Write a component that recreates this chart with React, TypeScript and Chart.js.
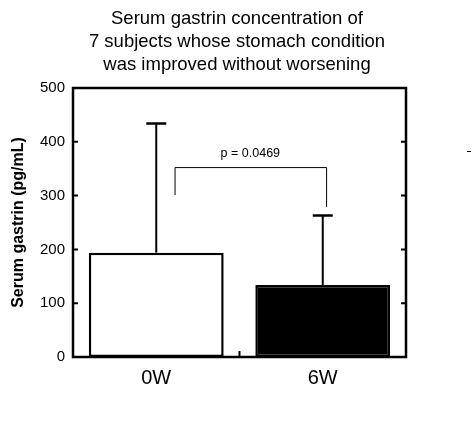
import React, { useEffect, useRef } from 'react';
import { Chart, registerables } from 'chart.js';

Chart.register(...registerables);

const titleLines = [
  'Serum gastrin concentration of',
  '7 subjects whose stomach condition',
  'was improved without worsening',
];
const categories = ['0W', '6W'];
const meanValues = [194, 134];
const upperErrors = [434, 263];
const barColors = ['#ffffff', '#000000'];
const yTickValues = [0, 100, 200, 300, 400, 500];
const yAxisTitle = 'Serum gastrin (pg/mL)';
const pValueLabel = 'p = 0.0469';
// significance bracket, in data units (category index / value)
const bracketFrom = 0.11;
const bracketTo = 1.02;
const bracketTop = 353;
const bracketLeftEnd = 301;
const bracketRightEnd = 279;

const FONT = '"Liberation Sans", Arial, sans-serif';

const titlePlugin = {
  id: 'manualTitle',
  afterDraw(chart: any) {
    const { ctx } = chart;
    ctx.save();
    ctx.fillStyle = '#000';
    ctx.font = `18.5px ${FONT}`;
    ctx.textAlign = 'center';
    ctx.textBaseline = 'middle';
    titleLines.forEach((line, i) => {
      ctx.fillText(line, 237, 18.5 + i * 23);
    });
    ctx.restore();
  },
};

const overlayPlugin = {
  id: 'overlay',
  afterDatasetsDraw(chart: any) {
    const { ctx, chartArea: a, scales } = chart;
    const x = scales.x;
    const y = scales.y;
    ctx.save();
    ctx.strokeStyle = '#000';
    ctx.lineCap = 'butt';

    // error bars (upper only)
    meanValues.forEach((v, i) => {
      const px = x.getPixelForValue(i);
      const y0 = y.getPixelForValue(v);
      const y1 = y.getPixelForValue(upperErrors[i]);
      ctx.lineWidth = 2;
      ctx.beginPath();
      ctx.moveTo(px, y0);
      ctx.lineTo(px, y1);
      ctx.stroke();
      ctx.lineWidth = 2.5;
      ctx.beginPath();
      ctx.moveTo(px - 10, y1);
      ctx.lineTo(px + 10, y1);
      ctx.stroke();
    });

    // frame
    ctx.lineWidth = 2.5;
    ctx.strokeRect(a.left, a.top, a.right - a.left, a.bottom - a.top);

    // inward ticks on left and right
    ctx.lineWidth = 2;
    yTickValues.forEach((t) => {
      const py = y.getPixelForValue(t);
      ctx.beginPath();
      ctx.moveTo(a.left, py);
      ctx.lineTo(a.left + 5, py);
      ctx.moveTo(a.right, py);
      ctx.lineTo(a.right - 5, py);
      ctx.stroke();
    });
    // category boundary tick on bottom
    const mid = x.getPixelForValue(0.5);
    ctx.beginPath();
    ctx.moveTo(mid, a.bottom);
    ctx.lineTo(mid, a.bottom - 6);
    ctx.stroke();

    // significance bracket
    const bx1 = x.getPixelForValue(bracketFrom);
    const bx2 = x.getPixelForValue(bracketTo);
    const by = y.getPixelForValue(bracketTop);
    ctx.lineWidth = 1;
    ctx.beginPath();
    ctx.moveTo(bx1 + 0.5, y.getPixelForValue(bracketLeftEnd));
    ctx.lineTo(bx1 + 0.5, by + 0.5);
    ctx.lineTo(bx2 + 0.5, by + 0.5);
    ctx.lineTo(bx2 + 0.5, y.getPixelForValue(bracketRightEnd));
    ctx.stroke();

    ctx.fillStyle = '#000';
    ctx.font = `12.5px ${FONT}`;
    ctx.textAlign = 'center';
    ctx.textBaseline = 'middle';
    ctx.fillText(pValueLabel, (bx1 + bx2) / 2, by - 14);

    // small stray dash at right edge
    ctx.beginPath();
    ctx.moveTo(467, 151.5);
    ctx.lineTo(471, 151.5);
    ctx.stroke();

    ctx.restore();
  },
};

export default function App() {
  const canvasRef = useRef<HTMLCanvasElement | null>(null);

  useEffect(() => {
    document.body.style.margin = '0';
    const canvas = canvasRef.current;
    if (!canvas) return;
    Chart.defaults.font.family = FONT;
    Chart.defaults.color = '#000';
    const chart = new Chart(canvas, {
      type: 'bar',
      data: {
        labels: categories,
        datasets: [
          {
            data: meanValues,
            backgroundColor: barColors,
            borderColor: '#000',
            borderWidth: 2.5,
            borderSkipped: false,
            barPercentage: 0.81,
            categoryPercentage: 1,
          },
        ],
      },
      options: {
        animation: false,
        responsive: false,
        maintainAspectRatio: false,
        layout: { padding: { left: 0, right: 66, top: 88, bottom: 0 } },
        plugins: {
          legend: { display: false },
          tooltip: { enabled: false },
          title: { display: false },
        },
        scales: {
          x: {
            grid: { display: false, drawTicks: false },
            border: { display: false },
            ticks: { font: { size: 20 }, color: '#000', padding: 9 },
            afterFit: (s: any) => {
              s.height = 75;
            },
          },
          y: {
            min: 0,
            max: 500,
            grid: { display: false, drawTicks: false },
            border: { display: false },
            ticks: { stepSize: 100, font: { size: 15 }, color: '#000', padding: 8 },
            title: {
              display: true,
              text: yAxisTitle,
              color: '#000',
              font: { size: 16, weight: 'bold' },
              padding: { top: 9, bottom: 0 },
            },
            afterFit: (s: any) => {
              s.width = 73;
            },
          },
        },
      },
      plugins: [overlayPlugin, titlePlugin],
    });
    return () => chart.destroy();
  }, []);

  return (
    <div style={{ width: 472, height: 432 }}>
      <canvas ref={canvasRef} width={472} height={432} style={{ display: 'block' }} />
    </div>
  );
}
